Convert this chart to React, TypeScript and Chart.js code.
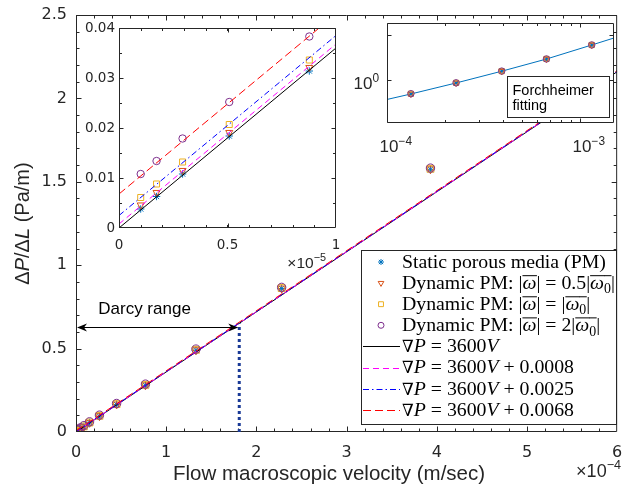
import React, { useEffect, useRef } from 'react';
import { Chart, registerables } from 'chart.js';
import { drawPoint } from 'chart.js/helpers';

Chart.register(...registerables);

// ---------------- data ----------------
const velocity = [1.0e-6, 1.73e-6, 2.93e-6, 5.08e-6, 8.77e-6, 1.5e-5, 2.6e-5, 4.5e-5, 7.7e-5, 1.33e-4, 2.28e-4, 3.93e-4, 6.7e-4, 1.15e-3];
const staticPM = [0.0038, 0.0063, 0.0108, 0.0184, 0.0314, 0.055, 0.095, 0.165, 0.28, 0.49, 0.86, 1.575, 2.93, 6.0];
const dynamicHalf = [0.0046, 0.0071, 0.0115, 0.0191, 0.0321, 0.056, 0.096, 0.166, 0.281, 0.491, 0.861, 1.576, 2.93, 6.0];
const dynamicOne = [0.0061, 0.0088, 0.0132, 0.0207, 0.0336, 0.057, 0.097, 0.167, 0.283, 0.493, 0.863, 1.578, 2.94, 6.01];
const dynamicTwo = [0.0108, 0.0134, 0.0179, 0.0252, 0.0383, 0.061, 0.101, 0.171, 0.287, 0.497, 0.867, 1.582, 2.94, 6.02];

const linearFitV = [0, 6e-4];
const fitDarcy = [0, 2.16];
const fit0008 = [0.0008, 2.1608];
const fit0025 = [0.0025, 2.1625];
const fit0068 = [0.0068, 2.1668];

const forchheimerV = [1.0e-4, 1.33e-4, 2.28e-4, 3.93e-4, 6.7e-4, 1.15e-3, 1.5e-3];
const forchheimerP = [0.37, 0.49, 0.86, 1.57, 2.93, 6.0, 8.6];

type Seg = [string, string];

const mainXTicks = [0, 1e-4, 2e-4, 3e-4, 4e-4, 5e-4, 6e-4];
const mainXLabels = ['0', '1', '2', '3', '4', '5', '6'];
const mainYTicks = [0, 0.5, 1, 1.5, 2, 2.5];
const mainYLabels = ['0', '0.5', '1', '1.5', '2', '2.5'];
const zoomXTicks = [0, 0.5e-5, 1e-5];
const zoomXLabels = ['0', '0.5', '1'];
const zoomYTicks = [0, 0.01, 0.02, 0.03, 0.04];
const zoomYLabels = ['0', '0.01', '0.02', '0.03', '0.04'];
const logXTicks = [1e-4, 1e-3];
const logXLabels: Seg[][] = [[['10', ''], ['−4', 'u']], [['10', ''], ['−3', 'u']]];
const logYTicks = [1, 10];
const logYLabels: Seg[][] = [[['10', ''], ['0', 'u']], []];

const darcyLimitV = 1.81e-4;
const darcyLimitP = 0.652;
const darcyArrowP = 0.631;
const darcyTextV = 0.76e-4;
const darcyTextP = 0.735;

const labelStatic: Seg[] = [['Static porous media (PM)', '']];
const labelHalf: Seg[] = [['Dynamic PM: |', ''], ['ω', 'io'], ['| = 0.5|', ''], ['ω', 'io'], ['0', 'so'], ['|', '']];
const labelOne: Seg[] = [['Dynamic PM: |', ''], ['ω', 'io'], ['| = |', ''], ['ω', 'io'], ['0', 'so'], ['|', '']];
const labelTwo: Seg[] = [['Dynamic PM: |', ''], ['ω', 'io'], ['| = 2|', ''], ['ω', 'io'], ['0', 'so'], ['|', '']];
const labelFit: Seg[] = [['∇', 'n'], ['P', 'i'], [' = 3600', ''], ['V', 'i']];
const labelFit0008: Seg[] = [...labelFit, [' + 0.0008', '']];
const labelFit0025: Seg[] = [...labelFit, [' + 0.0025', '']];
const labelFit0068: Seg[] = [...labelFit, [' + 0.0068', '']];

const xTitle = 'Flow macroscopic velocity (m/sec)';
const yTitle: Seg[] = [['Δ', ''], ['P', 'i'], ['/Δ', ''], ['L', 'i'], [' (Pa/m)', '']];
const mainExponent: Seg[] = [['×10', ''], ['−4', 'u']];
const zoomExponent: Seg[] = [['×10', ''], ['−5', 'u']];
const darcyText = 'Darcy range';
const fitBoxText = ['Forchheimer', 'fitting'];

// ---------------- styles ----------------
const AXIS = '#262626';
const TICK_FONT = 'DejaVu Sans';
const SANS = 'Liberation Sans, Arial, sans-serif';
const SERIF = 'Liberation Serif, DejaVu Serif, serif';

const markerSeries = [
  { segs: labelStatic, values: staticPM, style: 'star', rot: 0, color: '#0072BD' },
  { segs: labelHalf, values: dynamicHalf, style: 'triangle', rot: 180, color: '#D95319' },
  { segs: labelOne, values: dynamicOne, style: 'rect', rot: 0, color: '#EDB120' },
  { segs: labelTwo, values: dynamicTwo, style: 'circle', rot: 0, color: '#7E2F8E' },
];
const lineSeries = [
  { segs: labelFit, values: fitDarcy, color: '#000000', dash: [] as number[] },
  { segs: labelFit0008, values: fit0008, color: '#FF00FF', dash: [6, 4] },
  { segs: labelFit0025, values: fit0025, color: '#0000FF', dash: [6, 3, 1.5, 3] },
  { segs: labelFit0068, values: fit0068, color: '#FF0000', dash: [8, 4] },
];

const plain = (s: Seg[]) => s.map((p) => p[0]).join('');
const xy = (xs: number[], ys: number[]) => xs.map((x, i) => ({ x, y: ys[i] }));

function steps(a: number, b: number, step: number) {
  const out: number[] = [];
  for (let i = 0; a + i * step <= b + step * 1e-6; i++) out.push(a + i * step);
  return out;
}

function markerRadius(style: string, base: number) {
  if (style === 'rect') return base * 1.15;
  if (style === 'triangle') return base * 1.1;
  return base;
}

function markerDatasets(base: number) {
  return markerSeries.map((m, i) => ({
    label: plain(m.segs),
    data: xy(velocity, m.values),
    pointStyle: m.style,
    pointRotation: m.rot,
    pointRadius: markerRadius(m.style, base),
    pointBorderWidth: 1,
    pointBorderColor: m.color,
    pointBackgroundColor: 'rgba(0,0,0,0)',
    borderColor: m.color,
    backgroundColor: 'rgba(0,0,0,0)',
    showLine: false,
    order: 10 - i,
  }));
}

function lineDatasets() {
  return lineSeries.map((l, i) => ({
    label: plain(l.segs),
    data: xy(linearFitV, l.values),
    borderColor: l.color,
    borderWidth: 1,
    borderDash: l.dash,
    pointRadius: 0,
    showLine: true,
    fill: false,
    order: 4 - i,
  }));
}

function scaleOpts(
  axis: 'x' | 'y',
  type: string,
  min: number,
  max: number,
  tickVals: number[],
  tickLabels: string[] | null,
  fontSize: number,
  padding: number,
  size: number,
) {
  return {
    type,
    min,
    max,
    bounds: 'data',
    afterBuildTicks: (s: any) => {
      s.ticks = tickVals.map((v) => ({ value: v }));
    },
    afterFit: (s: any) => {
      if (axis === 'x') s.height = size;
      else s.width = size;
      s.paddingLeft = 0;
      s.paddingRight = 0;
      s.paddingTop = 0;
      s.paddingBottom = 0;
    },
    grid: { display: false, drawTicks: false },
    border: { display: false },
    ticks: {
      display: tickLabels !== null,
      autoSkip: false,
      maxRotation: 0,
      minRotation: 0,
      padding,
      color: AXIS,
      font: { family: TICK_FONT, size: fontSize },
      callback: (_v: any, i: number) => (tickLabels ? tickLabels[i] ?? '' : ''),
    },
  };
}

function framePlugin(f: { xMajor: number[]; xMinor: number[]; yMajor: number[]; yMinor: number[]; major: number; minor: number; white?: boolean }) {
  return {
    id: 'frame',
    beforeDraw(chart: any) {
      if (!f.white) return;
      const { ctx, chartArea: a } = chart;
      ctx.save();
      ctx.fillStyle = '#ffffff';
      ctx.fillRect(a.left, a.top, a.right - a.left, a.bottom - a.top);
      ctx.restore();
    },
    afterDatasetsDraw(chart: any) {
      const { ctx, chartArea: a } = chart;
      const xs = chart.scales.x;
      const ys = chart.scales.y;
      const L = a.left + 0.5;
      const R = a.right - 0.5;
      const T = a.top + 0.5;
      const B = a.bottom - 0.5;
      ctx.save();
      ctx.strokeStyle = AXIS;
      ctx.lineWidth = 1;
      ctx.setLineDash([]);
      ctx.beginPath();
      const xt = (v: number, len: number) => {
        const p = Math.round(xs.getPixelForValue(v)) + 0.5;
        if (p < L - 0.1 || p > R + 0.1) return;
        ctx.moveTo(p, B);
        ctx.lineTo(p, B - len);
        ctx.moveTo(p, T);
        ctx.lineTo(p, T + len);
      };
      const yt = (v: number, len: number) => {
        const p = Math.round(ys.getPixelForValue(v)) + 0.5;
        if (p < T - 0.1 || p > B + 0.1) return;
        ctx.moveTo(L, p);
        ctx.lineTo(L + len, p);
        ctx.moveTo(R, p);
        ctx.lineTo(R - len, p);
      };
      f.xMajor.forEach((v) => xt(v, f.major));
      f.xMinor.forEach((v) => xt(v, f.minor));
      f.yMajor.forEach((v) => yt(v, f.major));
      f.yMinor.forEach((v) => yt(v, f.minor));
      ctx.rect(L, T, R - L, B - T);
      ctx.stroke();
      ctx.restore();
    },
  };
}

function fontFor(style: string, size: number, family: string) {
  const small = style.includes('s') || style.includes('u');
  const s = small ? size * 0.7 : size;
  const fam = style.includes('n') ? 'DejaVu Serif' : family;
  const s2 = style.includes('n') ? s * 0.85 : s;
  return `${style.includes('i') ? 'italic ' : ''}${s2}px ${fam}`;
}

function richWidth(ctx: CanvasRenderingContext2D, segs: Seg[], size: number, family: string) {
  let w = 0;
  for (const [t, st] of segs) {
    ctx.font = fontFor(st, size, family);
    w += ctx.measureText(t).width;
  }
  return w;
}

function drawRich(ctx: CanvasRenderingContext2D, segs: Seg[], x: number, y: number, size: number, family: string, align: 'left' | 'center' | 'right') {
  const total = richWidth(ctx, segs, size, family);
  let cx = align === 'center' ? x - total / 2 : align === 'right' ? x - total : x;
  ctx.textAlign = 'left';
  for (const [t, st] of segs) {
    ctx.font = fontFor(st, size, family);
    const w = ctx.measureText(t).width;
    const dy = st.includes('s') ? size * 0.22 : st.includes('u') ? -size * 0.42 : 0;
    ctx.fillText(t, cx, y + dy);
    if (st.includes('o')) ctx.fillRect(cx, y - size * 0.7, w + 0.5, 1);
    cx += w;
  }
}

const mainDecorPlugin = {
  id: 'mainDecor',
  afterDatasetsDraw(chart: any) {
    const { ctx } = chart;
    const x = chart.scales.x;
    const y = chart.scales.y;
    ctx.save();
    // Darcy limit (dotted)
    const xd = x.getPixelForValue(darcyLimitV);
    ctx.strokeStyle = '#1a3a96';
    ctx.lineWidth = 3;
    ctx.setLineDash([3, 3]);
    ctx.beginPath();
    ctx.moveTo(xd, y.getPixelForValue(0));
    ctx.lineTo(xd, y.getPixelForValue(darcyLimitP));
    ctx.stroke();
    // double arrow
    const ya = Math.round(y.getPixelForValue(darcyArrowP)) + 0.5;
    const x0 = x.getPixelForValue(0) + 1;
    const x1 = xd - 1;
    ctx.setLineDash([]);
    ctx.lineWidth = 1;
    ctx.strokeStyle = '#000';
    ctx.fillStyle = '#000';
    ctx.beginPath();
    ctx.moveTo(x0 + 6, ya);
    ctx.lineTo(x1 - 6, ya);
    ctx.stroke();
    const head = (tx: number, dir: number) => {
      ctx.beginPath();
      ctx.moveTo(tx, ya);
      ctx.lineTo(tx + dir * 10, ya - 4);
      ctx.lineTo(tx + dir * 7, ya);
      ctx.lineTo(tx + dir * 10, ya + 4);
      ctx.closePath();
      ctx.fill();
    };
    head(x0, 1);
    head(x1, -1);
    ctx.font = `17px ${SANS}`;
    ctx.textAlign = 'center';
    ctx.textBaseline = 'middle';
    ctx.fillText(darcyText, x.getPixelForValue(darcyTextV), y.getPixelForValue(darcyTextP));
    ctx.restore();
  },
  afterDraw(chart: any) {
    const { ctx, chartArea: a } = chart;
    ctx.save();
    ctx.fillStyle = AXIS;
    // axis titles
    ctx.textBaseline = 'middle';
    ctx.textAlign = 'center';
    ctx.font = `20.5px ${SANS}`;
    ctx.fillText(xTitle, 329, 474);
    ctx.textBaseline = 'alphabetic';
    drawRich(ctx, mainExponent, 621, 477, 18, SANS, 'right');
    ctx.textBaseline = 'middle';
    ctx.translate(23, (a.top + a.bottom) / 2);
    ctx.rotate(-Math.PI / 2);
    drawRich(ctx, yTitle, 0, 0, 20, SANS, 'center');
    ctx.restore();

    // legend
    ctx.save();
    const bx = 361.5, by = 250.5, bw = 255, bh = 174;
    ctx.fillStyle = '#fff';
    ctx.fillRect(bx, by, bw, bh);
    ctx.strokeStyle = AXIS;
    ctx.lineWidth = 1;
    ctx.strokeRect(bx, by, bw, bh);
    const rowH = 21.1;
    const size = 19.8;
    const entries: any[] = [
      ...markerSeries.map((m) => ({ kind: 'm', ...m })),
      ...lineSeries.map((l) => ({ kind: 'l', ...l })),
    ];
    entries.forEach((e, i) => {
      const cy = 262 + i * rowH;
      if (e.kind === 'm') {
        ctx.strokeStyle = e.color;
        ctx.fillStyle = 'rgba(0,0,0,0)';
        drawPoint(ctx, { pointStyle: e.style, rotation: e.rot, radius: markerRadius(e.style, 3), borderWidth: 1 } as any, 381, cy);
      } else {
        ctx.strokeStyle = e.color;
        ctx.lineWidth = 1;
        ctx.setLineDash(e.dash);
        ctx.beginPath();
        ctx.moveTo(363, Math.round(cy) + 0.5);
        ctx.lineTo(400, Math.round(cy) + 0.5);
        ctx.stroke();
        ctx.setLineDash([]);
      }
      ctx.fillStyle = '#000';
      ctx.textBaseline = 'alphabetic';
      drawRich(ctx, e.segs, 402, cy + size * 0.3, size, SERIF, 'left');
    });
    ctx.restore();
  },
};

const zoomDecorPlugin = {
  id: 'zoomDecor',
  afterDraw(chart: any) {
    const { ctx, chartArea: a } = chart;
    ctx.save();
    ctx.fillStyle = AXIS;
    ctx.textBaseline = 'alphabetic';
    drawRich(ctx, zoomExponent, a.right - 10, a.bottom + 40, 15.5, SANS, 'right');
    ctx.restore();
  },
};

const logDecorPlugin = {
  id: 'logDecor',
  afterDraw(chart: any) {
    const { ctx, chartArea: a } = chart;
    const xs = chart.scales.x;
    const ys = chart.scales.y;
    ctx.save();
    // tick labels with superscripts
    ctx.fillStyle = AXIS;
    ctx.textBaseline = 'alphabetic';
    logXTicks.forEach((v, i) => {
      const segs = logXLabels[i];
      if (!segs.length) return;
      const w = richWidth(ctx, [segs[0]], 17, SANS);
      drawRich(ctx, segs, xs.getPixelForValue(v) - w / 2 + 2, a.bottom + 29, 17, SANS, 'left');
    });
    logYTicks.forEach((v, i) => {
      const segs = logYLabels[i];
      if (!segs.length) return;
      drawRich(ctx, segs, a.left - 8, ys.getPixelForValue(v) + 9, 17, SANS, 'right');
    });
    // fitting label box
    const bx = Math.round(a.left + 120) + 0.5;
    const by = Math.round(a.top + 53) + 0.5;
    ctx.fillStyle = '#fff';
    ctx.fillRect(bx, by, 102, 41);
    ctx.strokeStyle = AXIS;
    ctx.lineWidth = 1;
    ctx.strokeRect(bx, by, 102, 41);
    ctx.fillStyle = '#000';
    ctx.font = `14.5px ${SANS}`;
    ctx.textAlign = 'left';
    ctx.fillText(fitBoxText[0], bx + 5, by + 18);
    ctx.fillText(fitBoxText[1], bx + 5, by + 33);
    ctx.restore();
  },
};

function mainConfig(): any {
  return {
    type: 'scatter',
    data: { datasets: [...lineDatasets(), ...markerDatasets(4.2)] },
    options: {
      animation: false,
      responsive: false,
      devicePixelRatio: 1,
      events: [],
      layout: { padding: { left: 0, top: 15, right: 4, bottom: 0 } },
      plugins: { legend: { display: false }, tooltip: { enabled: false } },
      scales: {
        x: scaleOpts('x', 'linear', 0, 6e-4, mainXTicks, mainXLabels, 16, 11, 59),
        y: scaleOpts('y', 'linear', 0, 2.5, mainYTicks, mainYLabels, 16, 9, 76),
      },
    },
    plugins: [
      framePlugin({ xMajor: mainXTicks, xMinor: steps(0, 6e-4, 0.2e-4), yMajor: mainYTicks, yMinor: steps(0, 2.5, 0.1), major: 5, minor: 3 }),
      mainDecorPlugin,
    ],
  };
}

function zoomConfig(): any {
  return {
    type: 'scatter',
    data: { datasets: [...lineDatasets(), ...markerDatasets(3.7)] },
    options: {
      animation: false,
      responsive: false,
      devicePixelRatio: 1,
      events: [],
      layout: { padding: { left: 0, top: 10, right: 14, bottom: 0 } },
      plugins: { legend: { display: false }, tooltip: { enabled: false } },
      scales: {
        x: scaleOpts('x', 'linear', 0, 1e-5, zoomXTicks, zoomXLabels, 13.5, 9, 52),
        y: scaleOpts('y', 'linear', 0, 0.04, zoomYTicks, zoomYLabels, 13.5, 4, 59),
      },
    },
    plugins: [
      framePlugin({ xMajor: zoomXTicks, xMinor: steps(0, 1e-5, 0.1e-5), yMajor: zoomYTicks, yMinor: steps(0, 0.04, 0.005), major: 4, minor: 2.5, white: true }),
      zoomDecorPlugin,
    ],
  };
}

function logConfig(): any {
  const fit = {
    label: fitBoxText.join(' '),
    data: xy(forchheimerV, forchheimerP),
    borderColor: '#0072BD',
    borderWidth: 1,
    pointRadius: 0,
    showLine: true,
    order: 20,
  };
  return {
    type: 'scatter',
    data: { datasets: [fit, ...markerDatasets(3.2)] },
    options: {
      animation: false,
      responsive: false,
      devicePixelRatio: 1,
      events: [],
      layout: { padding: { left: 0, top: 13, right: 9, bottom: 0 } },
      plugins: { legend: { display: false }, tooltip: { enabled: false } },
      scales: {
        x: scaleOpts('x', 'logarithmic', 1e-4, 1.5e-3, logXTicks, null, 14, 13, 37),
        y: scaleOpts('y', 'logarithmic', 0.111, 18.5, logYTicks, null, 14, 7, 57),
      },
    },
    plugins: [
      framePlugin({
        xMajor: logXTicks,
        xMinor: [2e-4, 3e-4, 4e-4, 5e-4, 6e-4, 7e-4, 8e-4, 9e-4],
        yMajor: logYTicks,
        yMinor: [],
        major: 4,
        minor: 2.5,
        white: true,
      }),
      logDecorPlugin,
    ],
  };
}

export default function App() {
  const mainRef = useRef<HTMLCanvasElement>(null);
  const zoomRef = useRef<HTMLCanvasElement>(null);
  const logRef = useRef<HTMLCanvasElement>(null);

  useEffect(() => {
    const charts: Chart[] = [];
    if (mainRef.current) charts.push(new Chart(mainRef.current, mainConfig()));
    if (zoomRef.current) charts.push(new Chart(zoomRef.current, zoomConfig()));
    if (logRef.current) charts.push(new Chart(logRef.current, logConfig()));
    return () => charts.forEach((c) => c.destroy());
  }, []);

  return (
    <div style={{ position: 'fixed', left: 0, top: 0, width: 623, height: 491, background: '#ffffff', overflow: 'hidden' }}>
      <canvas ref={mainRef} width={623} height={491} style={{ position: 'absolute', left: 0, top: 0 }} />
      <canvas ref={zoomRef} width={290} height={262} style={{ position: 'absolute', left: 60, top: 18 }} />
      <canvas ref={logRef} width={293} height={150} style={{ position: 'absolute', left: 330, top: 10 }} />
    </div>
  );
}
